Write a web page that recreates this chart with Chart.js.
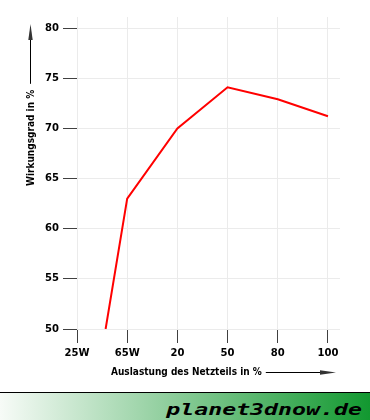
<!DOCTYPE html>
<html><head><meta charset="utf-8">
<script src="https://cdn.jsdelivr.net/npm/chart.js@4/dist/chart.umd.min.js"></script>
<style>
html,body{margin:0;padding:0;background:#fff;width:370px;height:420px;overflow:hidden}
#wrap{position:absolute;left:0;top:0;width:370px;height:392px}
#banner{position:absolute;left:0;top:392px;width:370px;height:28px;border-top:1px solid #000;box-sizing:border-box;background:linear-gradient(to right,#f7fbf7,#129830)}
#banner span{position:absolute;right:8px;top:7px;line-height:16px;font:italic bold 16px 'DejaVu Sans Mono',monospace;color:#000;transform:scaleX(1.45);transform-origin:right center;white-space:nowrap}
</style>
</head><body>
<div id="wrap"><canvas id="c" width="370" height="392"></canvas></div>
<div id="banner"><span>planet3dnow.de</span></div>
<script>
const categories = ['25W', '65W', '20', '50', '80', '100'];
const xPositions = [0.57, 1, 2, 3, 4, 5];
const efficiency = [50, 63, 70, 74.1, 72.9, 71.2];
const yTicks = [50, 55, 60, 65, 70, 75, 80];
const X_TITLE = 'Auslastung des Netzteils in %';
const Y_TITLE = 'Wirkungsgrad in %';

const tickFont = {family: "'DejaVu Sans'", weight: 'bold', size: 10};

function arrowHead(ctx, x, y, dir) {
  ctx.beginPath();
  if (dir === 'right') { ctx.moveTo(x, y); ctx.lineTo(x - 16, y - 2.2); ctx.lineTo(x - 16, y + 2.2); }
  else { ctx.moveTo(x, y); ctx.lineTo(x - 2.2, y + 16); ctx.lineTo(x + 2.2, y + 16); }
  ctx.closePath(); ctx.fill();
}

const axisTitles = {
  id: 'axisTitles',
  afterDraw(chart) {
    const ctx = chart.ctx;
    ctx.save();
    ctx.fillStyle = '#000';
    ctx.strokeStyle = '#000';
    ctx.lineWidth = 1;
    ctx.font = "bold 10px 'DejaVu Sans Condensed', 'DejaVu Sans'";
    ctx.textBaseline = 'middle';
    ctx.textAlign = 'left';
    // x title
    ctx.fillText(X_TITLE, 111, 372);
    const w = ctx.measureText(X_TITLE).width;
    ctx.beginPath(); ctx.moveTo(111 + w + 4, 372.5); ctx.lineTo(325, 372.5); ctx.stroke();
    ctx.fillStyle = '#333';
    arrowHead(ctx, 336, 372.5, 'right');
    // y title
    ctx.fillStyle = '#000';
    ctx.save();
    ctx.translate(31, 186);
    ctx.rotate(-Math.PI / 2);
    ctx.fillText(Y_TITLE, 0, 0);
    const wy = ctx.measureText(Y_TITLE).width;
    ctx.restore();
    ctx.beginPath(); ctx.moveTo(30.5, 186 - wy - 6); ctx.lineTo(30.5, 35); ctx.stroke();
    ctx.fillStyle = '#333';
    arrowHead(ctx, 30.5, 24, 'up');
    ctx.restore();
  }
};

new Chart(document.getElementById('c'), {
  type: 'line',
  data: {
    datasets: [{
      data: xPositions.map((x, i) => ({x: x, y: efficiency[i]})),
      borderColor: '#ff0000',
      borderWidth: 2,
      pointRadius: 0,
      tension: 0,
      fill: false
    }]
  },
  options: {
    responsive: false,
    animation: false,
    devicePixelRatio: 1,
    layout: {padding: {top: 17, right: 30, left: 0, bottom: 0}},
    plugins: {legend: {display: false}, tooltip: {enabled: false}},
    scales: {
      x: {
        type: 'linear', min: 0, max: 5.24,
        afterBuildTicks: s => { s.ticks = categories.map((c, i) => ({value: i})); },
        afterFit: s => { s.height = 63; },
        ticks: {callback: v => categories[v], font: tickFont, color: '#000', padding: 4, maxRotation: 0, autoSkip: false},
        grid: {color: '#ebebeb', tickColor: '#404040', tickLength: 14, lineWidth: 1},
        border: {display: false}
      },
      y: {
        min: 50, max: 81.1,
        afterBuildTicks: s => { s.ticks = yTicks.map(v => ({value: v})); },
        afterFit: s => { s.width = 77; },
        ticks: {font: tickFont, color: '#000', padding: 4},
        grid: {color: '#ebebeb', tickColor: '#404040', tickLength: 14, lineWidth: 1},
        border: {display: false}
      }
    }
  },
  plugins: [axisTitles]
});
</script>
</body></html>
